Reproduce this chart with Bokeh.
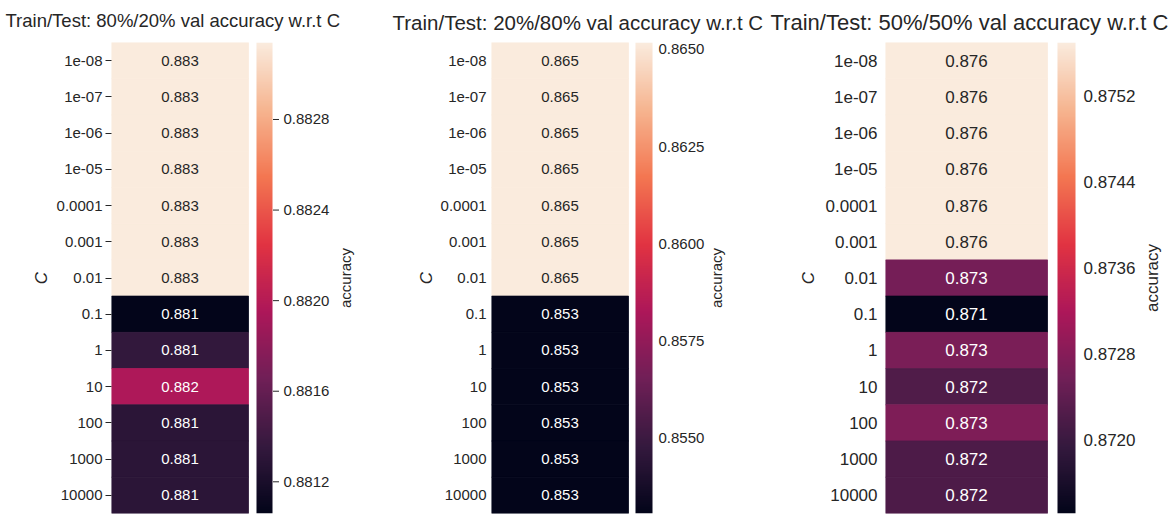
import math
import numpy as np
from bokeh.plotting import figure
from bokeh.layouts import row
from bokeh.models import (Range1d, FixedTicker, LinearScale,
                          LinearColorMapper, ColumnDataSource)
from bokeh.transform import transform
from bokeh.embed import file_html
from bokeh.resources import INLINE
from bokeh.core.properties import value

# ---------------- data ----------------
C_LABELS = ["1e-08", "1e-07", "1e-06", "1e-05", "0.0001", "0.001", "0.01",
            "0.1", "1", "10", "100", "1000", "10000"]

TITLES = ["Train/Test: 80%/20% val accuracy w.r.t C",
          "Train/Test: 20%/80% val accuracy w.r.t C",
          "Train/Test: 50%/50% val accuracy w.r.t C"]

ACC_80_20 = [0.88314, 0.88314, 0.88314, 0.88314, 0.88314, 0.88314, 0.88314,
             0.88106, 0.88134, 0.88196, 0.88130, 0.88130, 0.88130]
ACC_20_80 = [0.86518, 0.86518, 0.86518, 0.86518, 0.86518, 0.86518, 0.86518,
             0.85305, 0.85305, 0.85305, 0.85305, 0.85305, 0.85305]
ACC_50_50 = [0.87570, 0.87570, 0.87570, 0.87570, 0.87570, 0.87570,
             0.87263, 0.87132, 0.87268, 0.87224, 0.87272, 0.87220, 0.87220]

CB_TICKS_80_20 = [0.8812, 0.8816, 0.8820, 0.8824, 0.8828]
CB_TICKS_20_80 = [0.8550, 0.8575, 0.8600, 0.8625, 0.8650]
CB_TICKS_50_50 = [0.8720, 0.8728, 0.8736, 0.8744, 0.8752]

CB_LABEL = "accuracy"
Y_LABEL = "C"

# ---------------- style ----------------
FONT = "Liberation Sans"
TXT = "#262626"
ROCKET_ANCHORS = ["#03051a", "#35193e", "#701f57", "#ad1759",
                  "#e13342", "#f37651", "#f6b48f", "#faebdd"]


def hex2rgb(h):
    return np.array([int(h[i:i + 2], 16) for i in (1, 3, 5)], dtype=float)


def build_palette(anchors, n=256):
    pos = np.linspace(0, 1, len(anchors))
    rgb = np.array([hex2rgb(a) for a in anchors])
    t = np.linspace(0, 1, n)
    out = []
    for k in range(n):
        r = np.interp(t[k], pos, rgb[:, 0])
        g = np.interp(t[k], pos, rgb[:, 1])
        b = np.interp(t[k], pos, rgb[:, 2])
        out.append("#%02x%02x%02x" % (int(round(r)), int(round(g)), int(round(b))))
    return out


ROCKET = build_palette(ROCKET_ANCHORS)


def lum(hexcol):
    c = hex2rgb(hexcol) / 255.0
    c = np.where(c <= 0.03928, c / 12.92, ((c + 0.055) / 1.055) ** 2.4)
    return 0.2126 * c[0] + 0.7152 * c[1] + 0.0722 * c[2]


H = 517

# layout (all in pixels; x data units are pixels inside each frame)
CFG = [
    dict(width=388, bl=111, bt=40, bb=1, hm_w=137, gap=8, bar_w=16, extra=88,
         title_fs="18.5px", title_off=-106, title_standoff=19, tick_fs="15px",
         ann_fs="15px", tick_out=6, lab_standoff=3, c_standoff=3,
         cb_tick=6, cb_lab_dx=11, acc_dx=73),
    dict(width=380, bl=103, bt=37, bb=1, hm_w=137, gap=7, bar_w=17, extra=76,
         title_fs="20.5px", title_off=-99, title_standoff=14, tick_fs="15px",
         ann_fs="15px", tick_out=0, lab_standoff=5, c_standoff=2,
         cb_tick=0, cb_lab_dx=6, acc_dx=64),
    dict(width=400, bl=117, bt=42, bb=4, hm_w=162, gap=10, bar_w=18, extra=88,
         title_fs="22px", title_off=-115, title_standoff=11, tick_fs="17px",
         ann_fs="17px", tick_out=0, lab_standoff=8, c_standoff=5,
         cb_tick=0, cb_lab_dx=8, acc_dx=77),
]


def make_panel(title, vals, cb_ticks, cfg):
    vmin, vmax = min(vals), max(vals)
    mapper = LinearColorMapper(palette=ROCKET, low=vmin, high=vmax)
    bar_x0 = cfg["hm_w"] + cfg["gap"]
    bar_x1 = bar_x0 + cfg["bar_w"]
    frame_w = bar_x1 + cfg["extra"]
    br = cfg["width"] - cfg["bl"] - frame_w
    n = len(C_LABELS)
    rows = list(range(n))

    p = figure(width=cfg["width"], height=H,
               x_range=Range1d(0, frame_w),
               y_range=Range1d(n - 0.5, -0.5),
               output_backend="svg", toolbar_location=None, tools="",
               min_border_left=cfg["bl"], min_border_right=br,
               min_border_top=cfg["bt"], min_border_bottom=cfg["bb"])
    p.extra_y_ranges = {"cb": Range1d(vmin, vmax)}
    p.extra_y_scales = {"cb": LinearScale()}
    p.outline_line_color = None
    p.xgrid.visible = False
    p.ygrid.visible = False
    p.xaxis.visible = False
    p.background_fill_color = "white"
    p.border_fill_color = "white"

    # cell colours -> annotation text colours
    cols = []
    for v in vals:
        idx = int(round((v - vmin) / (vmax - vmin) * (len(ROCKET) - 1)))
        cols.append(ROCKET[idx])
    tcols = [TXT if lum(c) > 0.408 else "white" for c in cols]

    src = ColumnDataSource(dict(r=rows, v=vals,
                                txt=["%.3f" % v for v in vals], tc=tcols))
    p.rect(x=cfg["hm_w"] / 2, y="r", width=cfg["hm_w"], height=1,
           fill_color=transform("v", mapper), line_color=transform("v", mapper),
           line_width=0.8, source=src)
    p.text(x=cfg["hm_w"] / 2, y="r", text="txt", text_color="tc",
           text_align="center", text_baseline="middle",
           text_font=value(FONT), text_font_size=cfg["ann_fs"], source=src)

    # colour bar drawn through the extra range
    grad = np.linspace(vmin, vmax, 256).reshape(256, 1)
    p.image(image=[grad], x=bar_x0, y=vmin, dw=cfg["bar_w"], dh=vmax - vmin,
            color_mapper=mapper, y_range_name="cb")

    # colour bar ticks + labels + title
    tsrc = ColumnDataSource(dict(t=cb_ticks, lab=["%.4f" % t for t in cb_ticks]))
    if cfg["cb_tick"]:
        p.segment(x0=bar_x1 + 0.5, x1=bar_x1 + 0.5 + cfg["cb_tick"], y0="t", y1="t",
                  line_color=TXT, line_width=1, y_range_name="cb", source=tsrc)
    p.text(x=bar_x1 + cfg["cb_lab_dx"], y="t", text="lab", text_color=TXT,
           text_align="left", text_baseline="middle", text_font=value(FONT),
           text_font_size=cfg["tick_fs"], y_range_name="cb", source=tsrc)
    p.text(x=[bar_x1 + cfg["acc_dx"]], y=[(vmin + vmax) / 2], text=[CB_LABEL],
           angle=math.pi / 2, text_color=TXT, text_align="center",
           text_baseline="middle", text_font=value(FONT),
           text_font_size=cfg["tick_fs"], y_range_name="cb")

    # left axis (C)
    ax = p.left[0]
    ax.ticker = FixedTicker(ticks=rows)
    ax.major_label_overrides = {i: lab for i, lab in enumerate(C_LABELS)}
    ax.axis_label = Y_LABEL
    ax.axis_label_text_font = FONT
    ax.axis_label_text_font_style = "italic"
    ax.axis_label_text_font_size = "17px"
    ax.axis_label_text_color = TXT
    ax.axis_label_standoff = cfg["c_standoff"]
    ax.axis_line_color = None
    ax.major_tick_in = 0
    ax.major_tick_out = cfg["tick_out"]
    ax.major_tick_line_color = TXT if cfg["tick_out"] else None
    ax.minor_tick_line_color = None
    ax.major_label_standoff = cfg["lab_standoff"]
    ax.major_label_text_font = FONT
    ax.major_label_text_font_size = cfg["tick_fs"]
    ax.major_label_text_color = TXT

    # title
    p.title.text = title
    p.title.align = "left"
    p.title.vertical_align = "top"
    p.title.offset = cfg["title_off"]
    p.title.standoff = cfg["title_standoff"]
    p.title.text_font = FONT
    p.title.text_font_style = "normal"
    p.title.text_font_size = cfg["title_fs"]
    p.title.text_color = TXT
    return p


panels = [make_panel(TITLES[0], ACC_80_20, CB_TICKS_80_20, CFG[0]),
          make_panel(TITLES[1], ACC_20_80, CB_TICKS_20_80, CFG[1]),
          make_panel(TITLES[2], ACC_50_50, CB_TICKS_50_50, CFG[2])]

layout = row(*panels, spacing=0)
open("out.html", "w").write(file_html(layout, INLINE))
